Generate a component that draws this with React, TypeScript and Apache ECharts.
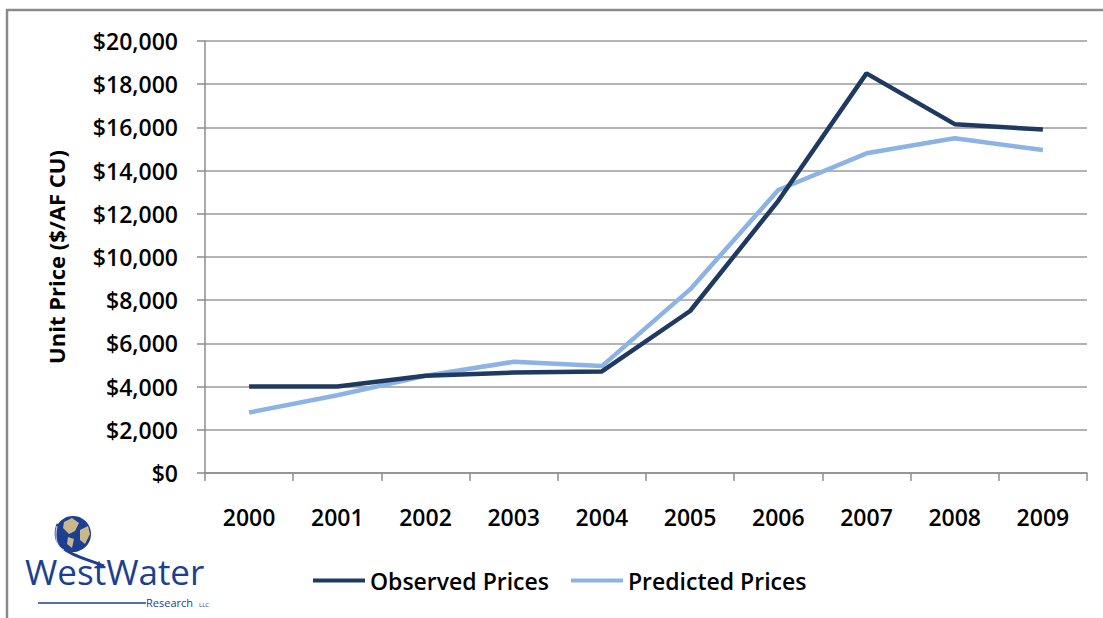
import React, { useEffect, useRef } from "react";
import * as echarts from "echarts";

const years = ["2000", "2001", "2002", "2003", "2004", "2005", "2006", "2007", "2008", "2009"];
const observedPrices = [4000, 4000, 4500, 4650, 4700, 7500, 12600, 18500, 16150, 15900];
const predictedPrices = [2800, 3600, 4500, 5150, 4950, 8500, 13100, 14800, 15500, 14950];
const yTicks = { min: 0, max: 20000, interval: 2000 };

const FONT = "'Open Sans', 'DejaVu Sans', sans-serif";
const LOGO_BLUE = "#1d3f8f";
const TAN = "#c8b88c";

export default function App() {
  const ref = useRef<HTMLDivElement>(null);
  useEffect(() => {
    if (!ref.current) return;
    const chart = echarts.init(ref.current, null, { renderer: "svg" });
    chart.setOption({
      animation: false,
      backgroundColor: "#ffffff",
      grid: { left: 205, top: 41, right: 16, bottom: 145, containLabel: false },
      xAxis: {
        type: "category",
        data: years,
        boundaryGap: true,
        axisLine: { show: true, lineStyle: { color: "#8c8c8c", width: 1.5 } },
        axisTick: { show: true, interval: 0, length: 8, lineStyle: { color: "#8c8c8c", width: 1.5 } },
        axisLabel: { color: "#000", fontSize: 23, fontFamily: FONT, fontWeight: 600, margin: 32 },
        splitLine: { show: false },
      },
      yAxis: {
        type: "value",
        min: yTicks.min,
        max: yTicks.max,
        interval: yTicks.interval,
        name: "Unit Price ($/AF CU)",
        nameLocation: "middle",
        nameGap: 138,
        nameTextStyle: { color: "#000", fontSize: 22, fontWeight: "bold", fontFamily: FONT },
        axisLine: { show: true, lineStyle: { color: "#8c8c8c", width: 1.5 } },
        axisTick: { show: true, length: 8, lineStyle: { color: "#8c8c8c", width: 1.5 } },
        axisLabel: {
          color: "#000",
          fontSize: 23,
          fontWeight: 600,
          fontFamily: FONT,
          margin: 27,
          formatter: (v: number) => "$" + v.toLocaleString("en-US"),
        },
        splitLine: { show: true, lineStyle: { color: "#9a9a9a", width: 1.5 } },
      },
      legend: {
        left: 313,
        top: 569,
        padding: 0,
        itemWidth: 52,
        itemHeight: 4,
        itemGap: 22,
        icon: "rect",
        textStyle: { color: "#000", fontSize: 23, fontWeight: 600, fontFamily: FONT },
        data: ["Observed Prices", "Predicted Prices"],
      },
      series: [
        {
          name: "Observed Prices",
          type: "line",
          data: observedPrices,
          symbol: "none",
          lineStyle: { color: "#1f3a60", width: 4.5 },
          itemStyle: { color: "#1f3a60" },
          z: 3,
        },
        {
          name: "Predicted Prices",
          type: "line",
          data: predictedPrices,
          symbol: "none",
          lineStyle: { color: "#8cb3e3", width: 4.5 },
          itemStyle: { color: "#8cb3e3" },
          z: 2,
        },
      ],
      graphic: [
        {
          type: "rect",
          shape: { x: 7, y: 10, width: 1200, height: 700 },
          style: { fill: "none", stroke: "#8a8a8a", lineWidth: 2.5 },
          silent: true,
        },
        {
          type: "group",
          children: [
            {
              type: "bezierCurve",
              shape: { x1: 58, y1: 524, x2: 104, y2: 566, cpx1: 48, cpy1: 552, cpx2: 80, cpy2: 556 },
              style: { stroke: LOGO_BLUE, lineWidth: 3, fill: "none" },
            },
            {
              type: "circle",
              shape: { cx: 73, cy: 534, r: 18 },
              style: { fill: LOGO_BLUE },
            },
            {
              type: "polygon",
              shape: { points: [[64, 522], [72, 518], [79, 523], [75, 531], [69, 534], [63, 528]] },
              style: { fill: TAN },
            },
            {
              type: "polygon",
              shape: { points: [[80, 530], [88, 526], [90, 534], [85, 544], [80, 540]] },
              style: { fill: TAN },
            },
            {
              type: "polygon",
              shape: { points: [[68, 537], [74, 539], [72, 548], [67, 544]] },
              style: { fill: TAN },
            },
            {
              type: "bezierCurve",
              shape: { x1: 57, y1: 526, x2: 64, y2: 550, cpx1: 54, cpy1: 540, cpx2: 58, cpy2: 548 },
              style: { stroke: "#ffffff", lineWidth: 1.2, fill: "none", opacity: 0.7 },
            },
            {
              type: "text",
              x: 25,
              y: 554,
              style: {
                text: "WestWater",
                fill: LOGO_BLUE,
                font: "500 35px 'Liberation Sans Narrow', 'Open Sans', sans-serif",
                lineHeight: 35,
                letterSpacing: -1.2,
              },
            },
            {
              type: "line",
              shape: { x1: 38, y1: 603, x2: 146, y2: 603 },
              style: { stroke: LOGO_BLUE, lineWidth: 1.5 },
            },
            {
              type: "text",
              x: 146,
              y: 597,
              style: {
                text: "Research",
                fill: LOGO_BLUE,
                font: "11px 'Liberation Sans Narrow', 'Open Sans', sans-serif",
                lineHeight: 11,
              },
            },
            {
              type: "text",
              x: 199,
              y: 602,
              style: {
                text: "LLC",
                fill: LOGO_BLUE,
                font: "6px 'Open Sans', sans-serif",
              },
            },
          ],
        },
      ],
    });
    return () => chart.dispose();
  }, []);
  return (
    <div
      ref={ref}
      style={{ position: "fixed", left: 0, top: 0, width: 1103, height: 618, background: "#fff" }}
    />
  );
}
